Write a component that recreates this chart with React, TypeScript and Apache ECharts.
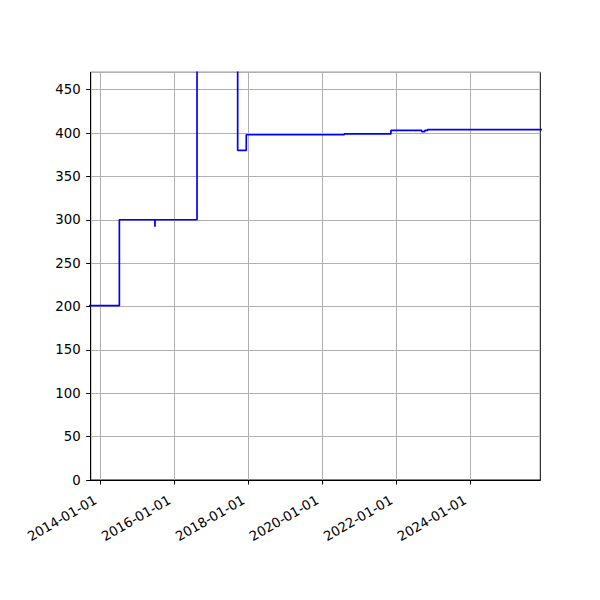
import React, { useEffect, useRef } from "react";
import * as echarts from "echarts";

const stepDates = [
  "2013-06-01", "2014-07-04", "2015-06-20", "2015-06-22", "2016-08-09",
  "2017-09-14", "2017-12-08", "2020-08-02", "2021-11-05", "2022-07-06",
  "2022-07-08", "2022-09-05", "2022-10-05", "2022-11-02", "2026-06-01",
];
const stepValues = [201, 300, 292, 300, 520, 380, 398, 399, 403, 402, 403, 401.5, 403, 404, 404];
const tickYears = [2014, 2016, 2018, 2020, 2022, 2024];
const xMin = "2013-09-24";
const xMax = "2025-11-19";
const yTicksMax = 470;

function parseLocal(s: string): number {
  const [y, m, d] = s.split("-").map(Number);
  return new Date(y, m - 1, d).getTime();
}

export default function App() {
  const ref = useRef<HTMLDivElement>(null);
  useEffect(() => {
    if (!ref.current) return;
    const chart = echarts.init(ref.current, undefined, { renderer: "svg" });
    const tickVals = tickYears.map((y) => new Date(y, 0, 1).getTime());
    const font = "DejaVu Sans";
    chart.setOption({
      animation: false,
      grid: {
        left: 90.7,
        right: 59.7,
        top: 72.3,
        bottom: 120,
        show: true,
        borderColor: "#000",
        borderWidth: 1,
        backgroundColor: "transparent",
      },
      xAxis: {
        type: "value",
        min: parseLocal(xMin),
        max: parseLocal(xMax),
        axisLine: { show: true, onZero: false, lineStyle: { color: "#000", width: 1 } },
        axisTick: {
          show: true,
          length: 4.5,
          lineStyle: { color: "#000", width: 1 },
          customValues: tickVals,
        },
        axisLabel: {
          customValues: tickVals,
          rotate: 30,
          margin: 16,
          padding: [0, 6, 0, 0],
          color: "#000",
          fontSize: 13.3,
          fontFamily: font,
          hideOverlap: false,
          formatter: (v: number) => {
            const d = new Date(v);
            return `${d.getFullYear()}-01-01`;
          },
        },
        splitLine: { show: true, lineStyle: { color: "#b0b0b0", width: 1 } },
      },
      yAxis: {
        type: "value",
        min: 0,
        max: yTicksMax,
        interval: 50,
        axisLine: { show: true, lineStyle: { color: "#000", width: 1 } },
        axisTick: { show: true, length: 4.5, lineStyle: { color: "#000", width: 1 } },
        axisLabel: {
          color: "#000",
          fontSize: 13.3,
          fontFamily: font,
          margin: 10,
          showMaxLabel: false,
        },
        splitLine: { show: true, lineStyle: { color: "#b0b0b0", width: 1 } },
      },
      series: [
        {
          type: "line",
          step: "end",
          data: stepDates.map((d, i) => [parseLocal(d), stepValues[i]]),
          showSymbol: false,
          symbol: "none",
          clip: true,
          lineStyle: { color: "#0000ff", width: 1.7 },
        },
      ],
    });
    return () => chart.dispose();
  }, []);
  return (
    <div
      ref={ref}
      style={{ position: "fixed", left: 0, top: 0, width: 600, height: 600, background: "#fff" }}
    />
  );
}
